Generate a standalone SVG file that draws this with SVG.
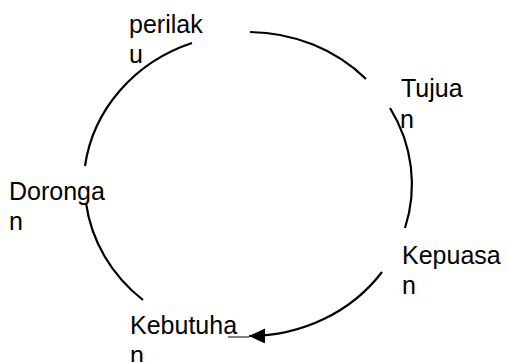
<svg xmlns="http://www.w3.org/2000/svg" width="508" height="362" viewBox="0 0 508 362">
<style>
  .lbl { font-family: "Liberation Sans", Arial, sans-serif; font-size: 25px; fill: #000; }
  .arc { fill: none; stroke: #000; stroke-width: 2.2; }
</style>
<defs>
  <marker id="ah" markerUnits="userSpaceOnUse" markerWidth="18" markerHeight="16" refX="16" refY="7.5" orient="auto">
    <path d="M0,0 L16,7.5 L0,15 Z" fill="#000"/>
  </marker>
</defs>
<rect width="508" height="362" fill="#fff"/>
<g id="connectors">
  <path class="arc" d="M85,166 A163,152 0 0 1 192,43"/>
  <path class="arc" d="M250,32 A163,152 0 0 1 366,79"/>
  <path class="arc" d="M390,108 A163,152 0 0 1 405,228"/>
  <path class="arc" d="M382,272 A163,152 0 0 1 249,336" marker-end="url(#ah)"/>
  <path class="arc" d="M143,300 A163,152 0 0 1 86,203"/>
  <line x1="228" y1="337" x2="249" y2="337" stroke="#000" stroke-width="1"/>
</g>
<g id="perilaku"><text class="lbl" x="129" y="33">perilak</text><text class="lbl" x="129" y="63">u</text></g>
<g id="tujuan"><text class="lbl" x="401" y="97">Tujua</text><text class="lbl" x="400" y="128">n</text></g>
<g id="kepuasan"><text class="lbl" x="402" y="264">Kepuasa</text><text class="lbl" x="402" y="294">n</text></g>
<g id="kebutuhan"><text class="lbl" x="130" y="334">Kebutuha</text><text class="lbl" x="130" y="364">n</text></g>
<g id="dorongan"><text class="lbl" x="9" y="200">Doronga</text><text class="lbl" x="9" y="230">n</text></g>
</svg>
